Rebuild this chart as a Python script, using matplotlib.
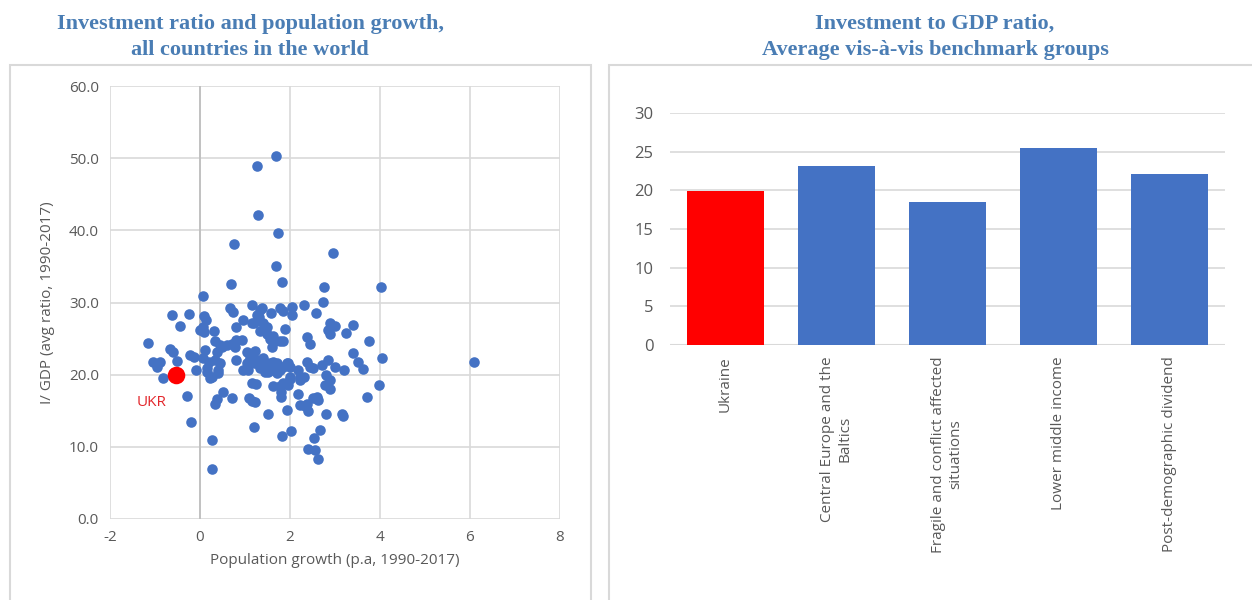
import matplotlib
matplotlib.use("Agg")
import matplotlib.pyplot as plt
from matplotlib.patches import Rectangle

plt.rcParams['font.family'] = ['Open Sans', 'DejaVu Sans']
plt.rcParams['axes.unicode_minus'] = False

# population growth (p.a.) vs I/GDP, one point per country
pop_growth = [
    1.69, 1.26, 1.28, 1.73, 0.76, 1.69, 2.96, 1.83, 0.69, 2.75, 4.02, 0.06, 2.73, 6.09,
    1.15, 2.31, 0.67, 1.33, 1.37, 1.78, 1.85, 2.04, 0.74, -0.63, -0.25, 0.09, 1.26, 2.04,
    1.58, 2.57, 0.13, 0.95, 1.19, 1.41, 2.89, 3.00, 3.41, -0.44, 0.07, 0.81, 1.48, 1.15,
    1.44, 1.89, 0.00, 0.09, 0.30, 1.33, 2.85, 2.89, 3.24, 1.48, 1.63, 1.30,
    -1.15, -0.67, -0.61, 0.11, 0.37, 0.48, 0.59, 0.70, 0.81, 0.93, 0.78, 1.04, 1.22, 1.56,
    1.67, 1.85, 1.78, 1.59, 2.38, 2.44, 3.75, 3.39, 0.33, 0.44,
    -1.05, -0.90, -0.96, -0.52, -0.22, -0.13, -0.09, 0.07, 0.19, 0.15, 0.33, 0.44, 0.41,
    0.80, 1.04, 1.07, 1.11, 1.19, 1.26, 1.37, 1.41, 1.44, 1.56, 1.63, 1.70, 1.33, 1.44,
    1.52, 1.70, 0.96, 1.85, 1.96, 2.18, 2.30, 2.37, 2.44, 2.52, 2.70, 2.85, 3.00, 3.19,
    3.50, 3.63, 4.04, 0.15, 0.41, 1.11, 1.26, 1.41, 1.56, 1.70, 1.63, 1.78, 1.93, 2.00,
    2.00, 2.22,
    -0.83, 0.26, 0.22, -0.28, 1.15, 1.24, 1.63, 1.78, 1.85, 1.96, 2.00, 1.81, 1.81, 2.22,
    2.17, 2.81, 2.89, 2.78, 2.89, 3.98, 3.70, 0.50,
    0.37, 0.33, 0.72, 1.09, 1.15, 1.22, 2.22, 2.33, 2.41, 2.37, 2.52, 2.63, 2.59, 1.50,
    1.94, 2.81, 3.15, 3.17, -0.20,
    1.20, 1.83, 2.02, 2.67, 2.53, 2.41, 2.56, 2.63, 0.26, 0.27,
]
inv_ratio = [
    50.3, 48.9, 42.1, 39.6, 38.1, 35.1, 36.8, 32.9, 32.6, 32.2, 32.2, 30.9, 30.1, 21.7,
    29.7, 29.7, 29.2, 29.0, 29.2, 29.3, 28.8, 29.4, 28.7, 28.2, 28.4, 28.1, 28.3, 28.3,
    28.6, 28.6, 27.6, 27.6, 27.2, 27.1, 27.1, 26.7, 26.9, 26.8, 26.6, 26.6, 26.6, 27.1,
    26.3, 26.3, 26.2, 25.9, 26.1, 26.0, 26.2, 25.7, 25.8, 25.6, 25.4, 28.0,
    24.4, 23.6, 23.2, 23.4, 23.2, 23.9, 24.1, 24.3, 24.8, 24.8, 23.9, 23.2, 23.3, 25.0,
    24.6, 24.6, 24.6, 23.9, 25.2, 24.2, 24.6, 23.0, 24.6, 24.1,
    21.8, 21.8, 21.0, 21.9, 22.7, 22.4, 20.6, 22.3, 21.8, 20.9, 22.0, 21.6, 20.7,
    22.1, 21.6, 20.7, 22.3, 21.6, 21.6, 22.0, 22.3, 21.3, 20.9, 21.7, 21.1, 20.9, 20.4,
    20.4, 20.2, 20.6, 21.1, 21.6, 20.6, 19.7, 21.8, 21.1, 20.9, 21.3, 22.1, 21.0, 20.6,
    21.7, 20.8, 22.3, 20.4, 20.3, 22.0, 22.0, 22.0, 21.6, 21.6, 20.6, 20.6, 21.6, 21.1,
    19.7, 19.7,
    19.6, 19.7, 19.5, 17.1, 18.8, 18.7, 18.4, 18.4, 18.8, 18.6, 19.4, 17.6, 16.9, 19.3,
    17.3, 20.0, 19.3, 18.6, 18.0, 18.5, 16.9, 17.6,
    16.6, 16.0, 16.8, 16.8, 16.3, 16.2, 15.8, 15.6, 14.9, 16.0, 16.7, 16.5, 16.9, 14.5,
    15.1, 14.5, 14.6, 14.3, 13.5,
    12.8, 11.5, 12.2, 12.3, 11.2, 9.7, 9.6, 8.3, 10.9, 6.9,
]
ukr_growth = -0.53
ukr_ratio = 20.0

groups = ["Ukraine", "Central Europe and the\nBaltics",
          "Fragile and conflict affected\nsituations", "Lower middle income",
          "Post-demographic dividend"]
group_ratio = [19.9, 23.1, 18.5, 25.5, 22.1]

blue = '#4472c4'
grey_txt = '#595959'
grid_c = '#d9d9d9'
title_c = '#4a7db4'

fig = plt.figure(figsize=(12.52, 6), dpi=100)

# panel frames
fig.add_artist(Rectangle((10/1252, -0.01), 581/1252, 1.01 - 65/600, transform=fig.transFigure,
                         fill=False, edgecolor=grid_c, linewidth=1.5))
fig.add_artist(Rectangle((609/1252, -0.01), 660/1252, 1.01 - 65/600, transform=fig.transFigure,
                         fill=False, edgecolor=grid_c, linewidth=1.5))

# titles
fig.text(250/1252, 1 - 37/600, "Investment ratio and population growth,\nall countries in the world",
         ha='center', va='center', fontsize=16, fontweight='bold', color=title_c,
         family='Liberation Serif', linespacing=1.4)
fig.text(935/1252, 1 - 37/600, "Investment to GDP ratio,\nAverage vis-à-vis benchmark groups",
         ha='center', va='center', fontsize=16, fontweight='bold', color=title_c,
         family='Liberation Serif', linespacing=1.4)

# left: scatter
ax1 = fig.add_axes([110/1252, 1 - 519/600, 450/1252, 433/600])
ax1.scatter(pop_growth, inv_ratio, s=58, color=blue, zorder=3, linewidths=0)
ax1.scatter([ukr_growth], [ukr_ratio], s=160, color='#ff0000', zorder=4, linewidths=0)
ax1.text(-1.07, 16.2, "UKR", color='#e3262b', fontsize=11, ha='center', va='center')
ax1.set_xlim(-2, 8)
ax1.set_ylim(0, 60)
ax1.set_xticks([-2, 0, 2, 4, 6, 8])
ax1.set_yticks(range(0, 61, 10))
ax1.set_yticklabels([f"{v:.1f}" for v in range(0, 61, 10)])
ax1.grid(True, color=grid_c, linewidth=1.2, zorder=0)
ax1.axvline(0, color='#bfbfbf', linewidth=1.3, zorder=1)
for sp in ax1.spines.values():
    sp.set_visible(False)
ax1.tick_params(length=0, labelsize=11, labelcolor=grey_txt, pad=8)
ax1.set_xlabel("Population growth (p.a, 1990-2017)", fontsize=11, color=grey_txt, labelpad=6)
ax1.set_ylabel("I/ GDP (avg ratio, 1990-2017)", fontsize=11, color=grey_txt, labelpad=10)
ax1.set_axisbelow(True)

# right: bars
ax2 = fig.add_axes([670/1252, 1 - 345/600, 555/1252, 232/600])
colors = ['#ff0000'] + [blue] * (len(groups) - 1)
ax2.bar(range(len(groups)), group_ratio, width=0.7, color=colors, zorder=3)
ax2.set_xlim(-0.5, len(groups) - 0.5)
ax2.set_ylim(0, 30)
ax2.set_yticks(range(0, 31, 5))
ax2.yaxis.grid(True, color=grid_c, linewidth=1.2, zorder=0)
for sp in ax2.spines.values():
    sp.set_visible(False)
ax2.axhline(0, color=grid_c, linewidth=1.5, zorder=2)
ax2.set_xticks(range(len(groups)))
ax2.set_xticklabels(groups, rotation=90, ha='center', va='top', multialignment='center')
ax2.tick_params(length=0, labelsize=11, labelcolor=grey_txt, pad=8)
ax2.tick_params(axis='y', labelsize=12, pad=12)

fig.savefig("out.png", dpi=100, facecolor='white')
